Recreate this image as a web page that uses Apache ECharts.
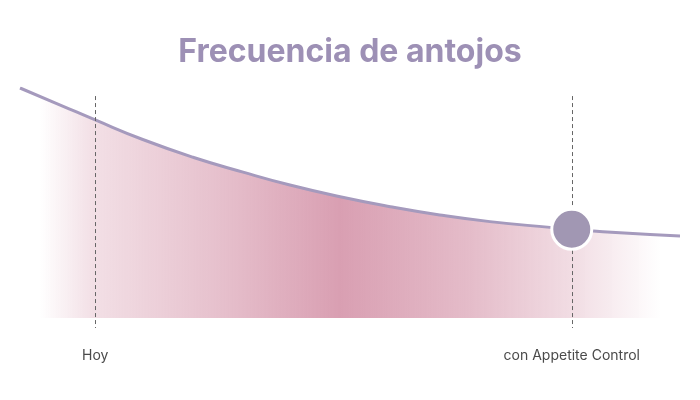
<!DOCTYPE html>
<html>
<head>
<meta charset="utf-8">
<script src="https://cdn.jsdelivr.net/npm/echarts@6/dist/echarts.min.js"></script>
<style>
  html, body { margin: 0; padding: 0; background: #fff; }
  #echart { width: 700px; height: 400px; }
</style>
</head>
<body>
<div id="echart"></div>
<script>
// curva de frecuencia (tiempo 0-100, nivel 0-100)
var curveX = [0, 6.1, 11.4, 18.6, 26.2, 33.8, 40.9, 48.5, 56.1, 63.6, 71.2, 80.3, 83.6, 90.9, 100];
var curveY = [100, 92.6, 86.1, 77.6, 69.9, 63.4, 57.8, 52.7, 48.4, 44.8, 41.9, 39.4, 38.6, 37.1, 35.7];
var markX = [11.4, 83.6];
var markLabels = ['Hoy', 'con Appetite Control'];
var pointX = 83.6;
var pointY = 38.6;

let myChart = echarts.init(document.getElementById('echart'));

var lineData = curveX.map(function (x, i) { return [x, curveY[i]]; });
var markLines = markX.map(function (x, i) {
    return [
        { coord: [x, 96.5], name: markLabels[i] },
        { coord: [x, -4.35] }
    ];
});

var pink = function (a) { return 'rgba(217,159,178,' + a + ')'; };

var option = {
    animation: false,
    title: {
        text: 'Frecuencia de antojos',
        left: 'center',
        top: 31,
        textStyle: {
            fontFamily: 'Inter',
            fontWeight: 'bold',
            fontSize: 32,
            color: '#9d90b5'
        }
    },
    grid: { left: 20, right: 20, top: 88, bottom: 72 },
    xAxis: { type: 'value', min: 0, max: 100, show: false },
    yAxis: { type: 'value', min: -4.35, max: 100, show: false },
    series: [{
        type: 'line',
        data: lineData,
        smooth: true,
        symbol: 'none',
        lineStyle: { color: '#a59abd', width: 3 },
        areaStyle: {
            origin: 0,
            opacity: 1,
            color: new echarts.graphic.LinearGradient(0, 0, 1, 0, [
                { offset: 0.03, color: pink(0) },
                { offset: 0.11, color: pink(0.33) },
                { offset: 0.3, color: pink(0.65) },
                { offset: 0.485, color: pink(1) },
                { offset: 0.68, color: pink(0.7) },
                { offset: 0.84, color: pink(0.35) },
                { offset: 0.97, color: pink(0) }
            ])
        },
        markLine: {
            silent: true,
            symbol: ['none', 'none'],
            lineStyle: { color: '#666', width: 1, type: [4, 3] },
            label: {
                show: true,
                position: 'end',
                distance: 21,
                formatter: '{b}',
                color: '#4a4a4a',
                fontFamily: 'Inter',
                fontSize: 14
            },
            data: markLines
        },
        markPoint: {
            silent: true,
            symbol: 'circle',
            symbolSize: 40,
            itemStyle: { color: '#a197b3', borderColor: '#fff', borderWidth: 3 },
            label: { show: false },
            data: [{ coord: [pointX, pointY] }]
        }
    }]
};
myChart.setOption(option);
</script>
</body>
</html>
